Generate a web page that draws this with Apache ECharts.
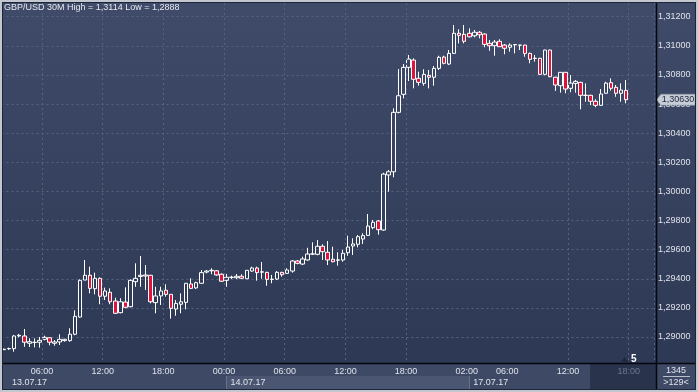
<!DOCTYPE html>
<html><head><meta charset="utf-8">
<script src="https://cdn.jsdelivr.net/npm/echarts@6/dist/echarts.min.js"></script>
<style>html,body{margin:0;padding:0;background:#2f3a55;}#c{width:698px;height:392px;}</style>
</head><body><div id="c"></div>
<script>
// ---- data (30 minute bars) ----
const opens = [1.28913,1.28919,1.28920,1.29007,1.29007,1.28957,1.28962,1.28964,1.28984,1.28995,
1.28957,1.28966,1.28975,1.28975,1.29019,1.29137,1.29391,1.29424,1.29332,1.29403,
1.29280,1.29307,1.29247,1.29167,1.29240,1.29208,1.29380,1.29416,1.29419,1.29424,
1.29236,1.29282,1.29321,1.29293,1.29192,1.29225,1.29238,1.29364,1.29337,1.29369,
1.29446,1.29455,1.29455,1.29431,1.29389,1.29409,1.29407,1.29417,1.29400,1.29453,
1.29474,1.29445,1.29444,1.29395,1.29398,1.29444,1.29437,1.29453,1.29522,1.29501,
1.29529,1.29569,1.29568,1.29623,1.29582,1.29534,1.29527,1.29529,1.29579,1.29625,
1.29637,1.29673,1.29698,1.29751,1.29797,1.29735,1.30113,1.30135,1.30543,1.30667,
1.30852,1.30902,1.30777,1.30742,1.30797,1.30784,1.30845,1.30923,1.30875,1.30948,
1.31086,1.31079,1.31086,1.31069,1.31093,1.31081,1.31017,1.31001,1.31031,1.31005,
1.30990,1.31007,1.31005,1.31005,1.30948,1.30913,1.30914,1.30804,1.30971,1.30784,
1.30726,1.30818,1.30708,1.30742,1.30749,1.30659,1.30660,1.30619,1.30591,1.30674,
1.30747,1.30715,1.30674,1.30694];
const closes = [1.28916,1.28921,1.29007,1.29012,1.28964,1.28968,1.28964,1.28977,1.28998,1.28964,
1.28966,1.28984,1.28984,1.29019,1.29142,1.29389,1.29424,1.29334,1.29403,1.29280,
1.29316,1.29242,1.29163,1.29242,1.29204,1.29389,1.29403,1.29424,1.29426,1.29242,
1.29282,1.29316,1.29293,1.29197,1.29231,1.29242,1.29369,1.29334,1.29373,1.29442,
1.29453,1.29458,1.29426,1.29383,1.29410,1.29411,1.29417,1.29403,1.29458,1.29474,
1.29442,1.29448,1.29396,1.29397,1.29444,1.29428,1.29460,1.29522,1.29506,1.29536,
1.29570,1.29571,1.29623,1.29586,1.29529,1.29517,1.29530,1.29575,1.29618,1.29639,
1.29689,1.29696,1.29762,1.29788,1.29737,1.30119,1.30135,1.30543,1.30657,1.30852,
1.30909,1.30770,1.30749,1.30804,1.30784,1.30845,1.30921,1.30880,1.30948,1.31086,
1.31072,1.31031,1.31062,1.31093,1.31076,1.31010,1.31001,1.31026,1.30994,1.30983,
1.31005,1.31009,1.31004,1.30948,1.30907,1.30915,1.30804,1.30971,1.30788,1.30731,
1.30818,1.30703,1.30744,1.30756,1.30660,1.30661,1.30619,1.30591,1.30669,1.30744,
1.30708,1.30674,1.30696,1.30630];
const lows = [1.28911,1.28911,1.28899,1.28998,1.28933,1.28931,1.28929,1.28927,1.28977,1.28943,
1.28940,1.28945,1.28968,1.28968,1.29012,1.29133,1.29391,1.29300,1.29293,1.29225,
1.29254,1.29225,1.29158,1.29163,1.29197,1.29204,1.29345,1.29345,1.29323,1.29231,
1.29163,1.29220,1.29277,1.29126,1.29146,1.29163,1.29190,1.29330,1.29330,1.29366,
1.29437,1.29431,1.29421,1.29378,1.29345,1.29398,1.29398,1.29398,1.29398,1.29448,
1.29387,1.29400,1.29352,1.29369,1.29391,1.29414,1.29433,1.29442,1.29499,1.29494,
1.29524,1.29563,1.29561,1.29529,1.29494,1.29513,1.29490,1.29517,1.29558,1.29563,
1.29616,1.29639,1.29694,1.29740,1.29703,1.29730,1.29998,1.30097,1.30536,1.30639,
1.30758,1.30708,1.30726,1.30726,1.30708,1.30726,1.30834,1.30873,1.30868,1.30944,
1.31017,1.31017,1.31058,1.31058,1.31051,1.30990,1.30966,1.30932,1.30992,1.30942,
1.30960,1.30948,1.30971,1.30925,1.30880,1.30891,1.30799,1.30797,1.30784,1.30690,
1.30678,1.30674,1.30681,1.30678,1.30564,1.30616,1.30593,1.30578,1.30587,1.30672,
1.30692,1.30650,1.30616,1.30605];
const highs = [1.28920,1.28927,1.29014,1.29021,1.29055,1.28991,1.28991,1.29000,1.29009,1.28995,
1.28979,1.29019,1.28988,1.29060,1.29183,1.29396,1.29529,1.29483,1.29442,1.29409,
1.29339,1.29334,1.29270,1.29266,1.29341,1.29396,1.29506,1.29556,1.29494,1.29427,
1.29345,1.29345,1.29362,1.29295,1.29254,1.29300,1.29371,1.29403,1.29380,1.29460,
1.29460,1.29472,1.29460,1.29437,1.29433,1.29421,1.29433,1.29431,1.29460,1.29483,
1.29483,1.29515,1.29448,1.29426,1.29453,1.29448,1.29472,1.29529,1.29529,1.29552,
1.29613,1.29650,1.29666,1.29637,1.29659,1.29620,1.29582,1.29598,1.29696,1.29678,
1.29701,1.29712,1.29845,1.29804,1.29804,1.30128,1.30147,1.30571,1.30841,1.30875,
1.30937,1.30914,1.30822,1.30839,1.30834,1.30861,1.30932,1.30932,1.30971,1.31143,
1.31113,1.31143,1.31120,1.31109,1.31102,1.31086,1.31040,1.31040,1.31045,1.31012,
1.31017,1.31012,1.31007,1.31007,1.30953,1.30937,1.30918,1.30973,1.30973,1.30788,
1.30820,1.30820,1.30799,1.30765,1.30753,1.30742,1.30664,1.30633,1.30703,1.30753,
1.30777,1.30731,1.30742,1.30765];

// session segments of the time axis (date, first bar, number of 30M slots incl. future)
const segments = [
  {date:'13.07.17', start:'02:00', bars:44},
  {date:'14.07.17', start:'00:00', bars:48},
  {date:'17.07.17', start:'02:00', bars:37}
];
const timeTickLabels = ['13.07.17 06:00','13.07.17 12:00','13.07.17 18:00','14.07.17 00:00',
  '14.07.17 06:00','14.07.17 12:00','14.07.17 18:00','17.07.17 02:00','17.07.17 06:00',
  '17.07.17 12:00','17.07.17 18:00'];
const gridLineTimes = ['13.07.17 06:00','13.07.17 12:00','13.07.17 18:00','14.07.17 00:00',
  '14.07.17 06:00','14.07.17 12:00','14.07.17 18:00','17.07.17 12:00','17.07.17 18:00'];
const titleText = 'GBP/USD 30M High = 1,3114 Low = 1,2888';
const barCountText = '1345';
const visibleText = '>129<';
const timerText = '5';
const yRange = [1.288214, 1.312941];

// ---- build ----
const categories = [];
const dateStarts = new Set();
segments.forEach(s => {
  const p = s.start.split(':').map(Number);
  const t0 = p[0]*60 + p[1];
  dateStarts.add(categories.length);
  for (let i = 0; i < s.bars; i++) {
    const m = t0 + i*30;
    categories.push(s.date + ' ' + String(Math.floor(m/60)).padStart(2,'0') + ':' + String(m%60).padStart(2,'0'));
  }
});
const future = new Set(categories.slice(opens.length));
const ohlc = opens.map((o,i) => [o, closes[i], lows[i], highs[i]]);
const lastClose = closes[closes.length-1];
const fmt = v => v.toFixed(5).replace('.', ',');

const FONT = '"Liberation Sans", Arial, sans-serif';
const TXT = '#dfe3ea';
const GRIDC = '#56627e';

const chart = echarts.init(document.getElementById('c'), null, {renderer:'canvas'});

function baseGraphics(tagY) {
  const g = [
    {type:'rect', id:'bg', z:-100, shape:{x:0,y:0,width:698,height:392},
      style:{fill:new echarts.graphic.LinearGradient(0,0,0,1,[{offset:0,color:'#3f4b69'},{offset:1,color:'#2c3753'}])}},
    {type:'rect', id:'strip', z:-90, shape:{x:2,y:364,width:694,height:26}, style:{fill:'#3e4966'}},
    {type:'rect', id:'d14', z:-89, shape:{x:226,y:376,width:243,height:14}, style:{fill:'#4b5672'}},
    {type:'line', id:'dv1', z:-88, shape:{x1:226.5,y1:376,x2:226.5,y2:390}, style:{stroke:'#66718b',lineWidth:1}},
    {type:'line', id:'dv2', z:-88, shape:{x1:469.5,y1:376,x2:469.5,y2:390}, style:{stroke:'#66718b',lineWidth:1}},
    {type:'rect', id:'fut', z:-89, shape:{x:590,y:364,width:66,height:26}, style:{fill:'#29334c'}},
    {type:'line', id:'hsep', z:100, shape:{x1:2,y1:363.5,x2:696,y2:363.5}, style:{stroke:'#05070c',lineWidth:1.5}},
    {type:'line', id:'vsep', z:100, shape:{x1:656.5,y1:2,x2:656.5,y2:390}, style:{stroke:'#05070c',lineWidth:1.5}},
    {type:'rect', id:'frameIn', z:100, shape:{x:2.5,y:2.5,width:693,height:387}, style:{fill:null,stroke:'#1d2538',lineWidth:1}},
    {type:'rect', id:'frame', z:101, shape:{x:1,y:1,width:696,height:390}, style:{fill:null,stroke:'#c3c8d0',lineWidth:2}},
    {type:'text', id:'title', z:50, x:4, y:3, style:{text:titleText, fill:'#e6e9ef', font:'9px '+FONT}},
    {type:'polygon', id:'tri', z:50, shape:{points:[[621,362],[624.5,357],[628,362]]}, style:{fill:'#1f283d'}},
    {type:'text', id:'timer', z:50, x:631, y:354, style:{text:timerText, fill:'#ffffff', font:'bold 10px '+FONT}},
    {type:'text', id:'cnt', z:50, x:676, y:366, style:{text:barCountText, fill:TXT, font:'9px '+FONT, textAlign:'center'}},
    {type:'line', id:'cntl', z:50, shape:{x1:663,y1:376.5,x2:690,y2:376.5}, style:{stroke:'#b9bfca',lineWidth:1}},
    {type:'text', id:'vis', z:50, x:676, y:378, style:{text:visibleText, fill:TXT, font:'9px '+FONT, textAlign:'center'}}
  ];
  if (tagY != null) {
    const h = 5.5;
    g.push({type:'polygon', id:'tag', z:60, shape:{points:[[656.5,tagY],[661,tagY-h],[695,tagY-h],[695,tagY+h],[661,tagY+h]]},
      style:{fill:'#c8cdd5', stroke:'#8e97a8', lineWidth:0.5}});
    g.push({type:'text', id:'tagt', z:61, x:678, y:tagY, style:{text:fmt(lastClose), fill:'#1c2640', font:'9px '+FONT, textAlign:'center', textVerticalAlign:'middle'}});
  }
  return g;
}

function buildOption(tagY) {
  return {
    animation:false,
    backgroundColor:'transparent',
    grid:{left:1.5, top:3, width:652.4, height:360, outerBoundsMode:'none', containLabel:false},
    xAxis:[{
      type:'category', data:categories, boundaryGap:true, position:'bottom', z:5,
      axisLine:{show:false}, axisTick:{show:false},
      axisLabel:{interval:(i,v)=>timeTickLabels.includes(v), formatter:v=>v.split(' ')[1],
        color:(v)=> future.has(v) ? '#6c7791' : TXT, fontSize:9, fontFamily:FONT, margin:4, padding:[0,5,0,0]},
      splitLine:{show:true, interval:(i,v)=>gridLineTimes.includes(v), lineStyle:{color:GRIDC, type:[2,3], width:1}}
    },{
      type:'category', data:categories, boundaryGap:true, position:'bottom', offset:11, z:5,
      axisLine:{show:false}, axisTick:{show:false}, splitLine:{show:false},
      axisLabel:{interval:(i)=>dateStarts.has(i),
        formatter:(v)=> (v===categories[0] ? '{f|' : '{d|') + v.split(' ')[0] + '}',
        rich:{f:{padding:[0,0,0,8], color:TXT, fontSize:9, fontFamily:FONT}, d:{padding:[0,0,0,4], color:TXT, fontSize:9, fontFamily:FONT}},
        align:'left', color:TXT, fontSize:9, fontFamily:FONT, margin:4}
    }],
    yAxis:{
      type:'value', position:'right', min:yRange[0], max:yRange[1], splitNumber:12, scale:true,
      axisLine:{show:false}, axisTick:{show:false},
      axisLabel:{showMinLabel:false, showMaxLabel:false, formatter:fmt, color:TXT, fontSize:9, fontFamily:FONT, margin:4},
      splitLine:{show:true, showMinLine:false, showMaxLine:false, lineStyle:{color:GRIDC, type:[2,3], width:1}}
    },
    graphic:{elements:baseGraphics(tagY)},
    series:[{
      type:'candlestick', data:ohlc, barWidth:4, clip:true,
      itemStyle:{color:'rgba(0,0,0,0)', color0:'#df143c', borderColor:'#ffffff', borderColor0:'#ffffff', borderWidth:1}
    }]
  };
}

chart.setOption(buildOption(null));
const tagY = chart.convertToPixel({yAxisIndex:0}, lastClose);
chart.setOption(buildOption(tagY), true);
</script></body></html>
